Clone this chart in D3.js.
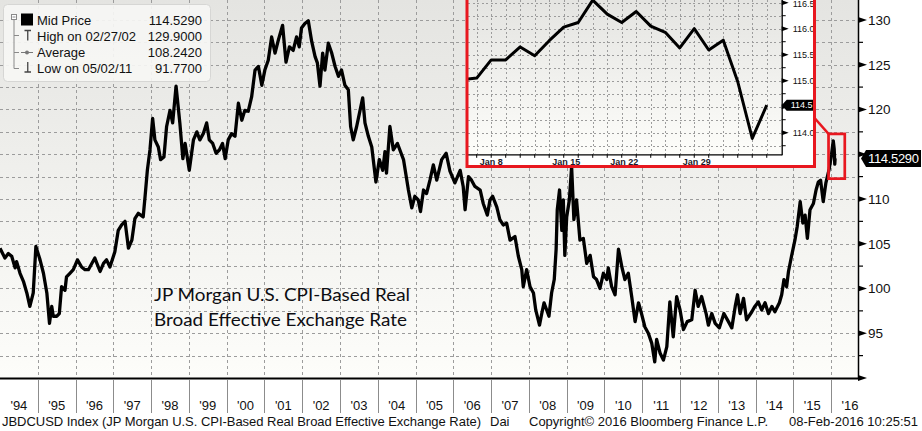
<!DOCTYPE html>
<html><head><meta charset="utf-8">
<script src="https://cdn.jsdelivr.net/npm/d3@7/dist/d3.min.js"></script>
<style>body{margin:0;background:#fff;} svg{display:block;}</style>
</head><body><svg id="c" width="922" height="431"></svg>
<script>
// ---------------- DATA ----------------
// Mid price series: [decimal year, value]
const midSeries = [
[1994.00,104.5],[1994.13,103.4],[1994.22,103.9],[1994.31,103.6],[1994.40,102.3],[1994.44,103.0],[1994.53,101.7],[1994.62,100.8],[1994.71,99.5],[1994.79,98.0],[1994.88,99.5],[1994.95,104.7],
[1995.06,103.2],[1995.15,101.7],[1995.24,99.5],[1995.31,96.1],[1995.37,98.0],[1995.41,96.9],[1995.50,96.9],[1995.57,97.2],[1995.63,100.2],[1995.72,99.8],[1995.76,101.3],[1995.85,101.7],[1995.94,102.1],
[1996.05,103.2],[1996.16,102.4],[1996.25,102.1],[1996.34,102.1],[1996.43,102.8],[1996.51,103.4],[1996.65,101.9],[1996.74,102.8],[1996.82,103.2],[1996.91,102.4],
[1997.04,104.1],[1997.13,106.5],[1997.22,107.1],[1997.31,107.5],[1997.40,104.5],[1997.49,105.4],[1997.57,107.8],[1997.66,108.4],[1997.79,108.0],[1997.84,110.3],[1997.90,113.2],[1997.97,115.5],
[1998.04,119.0],[1998.10,116.6],[1998.19,115.8],[1998.25,114.4],[1998.34,114.7],[1998.41,118.1],[1998.50,119.9],[1998.57,118.5],[1998.66,122.6],[1998.76,118.5],[1998.84,114.5],[1998.90,116.2],
[1999.01,113.2],[1999.12,116.6],[1999.21,117.5],[1999.29,116.6],[1999.38,117.3],[1999.47,118.5],[1999.54,116.6],[1999.63,116.2],[1999.72,115.1],[1999.81,115.5],[1999.89,116.2],[1999.96,114.5],
[2000.04,116.6],[2000.13,117.3],[2000.22,117.0],[2000.31,120.7],[2000.40,118.8],[2000.48,119.9],[2000.57,119.8],[2000.66,121.4],[2000.75,124.4],[2000.84,124.8],[2000.93,122.7],
[2001.01,124.4],[2001.10,125.5],[2001.19,128.1],[2001.28,126.3],[2001.37,127.8],[2001.48,129.4],[2001.57,125.3],[2001.66,127.0],[2001.76,126.6],[2001.85,128.1],[2001.92,127.0],[2001.98,129.1],
[2002.07,129.6],[2002.16,129.9],[2002.25,127.6],[2002.34,125.9],[2002.40,125.2],[2002.47,122.6],[2002.54,126.3],[2002.60,124.4],[2002.69,127.4],[2002.78,126.3],[2002.87,124.8],[2002.96,123.7],
[2003.04,124.4],[2003.13,122.7],[2003.22,122.2],[2003.28,118.1],[2003.35,116.6],[2003.44,118.1],[2003.53,119.9],[2003.60,121.3],[2003.66,118.5],[2003.75,117.0],[2003.84,115.8],[2003.95,111.9],
[2004.04,114.4],[2004.13,113.2],[2004.19,115.3],[2004.23,112.9],[2004.32,118.1],[2004.41,115.5],[2004.52,116.2],[2004.68,114.4],[2004.81,111.0],[2004.90,109.0],[2004.98,110.3],
[2005.07,109.9],[2005.13,108.6],[2005.21,111.0],[2005.29,110.6],[2005.38,112.1],[2005.47,113.8],[2005.56,112.1],[2005.69,114.4],[2005.81,115.1],[2005.91,113.1],
[2006.04,111.8],[2006.18,113.2],[2006.26,111.4],[2006.31,108.8],[2006.40,112.5],[2006.48,112.1],[2006.57,111.4],[2006.71,111.0],[2006.79,109.5],[2006.90,108.2],[2006.97,109.9],
[2007.04,110.3],[2007.15,109.1],[2007.23,107.7],[2007.32,107.1],[2007.41,107.3],[2007.50,105.4],[2007.63,105.8],[2007.72,103.6],[2007.81,102.1],[2007.85,100.2],[2007.94,102.1],
[2008.03,100.2],[2008.12,99.5],[2008.18,97.6],[2008.28,95.9],[2008.34,97.2],[2008.40,98.4],[2008.47,97.6],[2008.53,96.9],[2008.60,99.5],[2008.67,101.0],[2008.72,104.4],[2008.75,108.8],[2008.81,111.0],[2008.87,106.5],[2008.91,109.9],[2008.95,103.7],
[2009.00,108.0],[2009.07,109.9],[2009.13,113.6],[2009.19,107.7],[2009.26,109.9],[2009.35,105.4],[2009.44,105.6],[2009.53,102.8],[2009.62,103.7],[2009.71,101.3],[2009.79,101.0],[2009.88,100.0],[2009.97,101.7],
[2010.06,101.0],[2010.10,102.3],[2010.19,100.2],[2010.28,99.3],[2010.37,104.4],[2010.46,102.4],[2010.54,101.0],[2010.63,101.7],[2010.72,99.1],[2010.81,96.3],[2010.90,98.4],[2010.98,97.2],
[2011.07,95.7],[2011.16,95.0],[2011.25,93.9],[2011.33,91.8],[2011.38,94.3],[2011.47,92.8],[2011.56,92.0],[2011.65,93.5],[2011.73,98.5],[2011.82,94.6],[2011.91,99.1],
[2012.00,97.6],[2012.09,95.4],[2012.19,96.3],[2012.31,96.5],[2012.40,99.8],[2012.48,98.0],[2012.57,99.1],[2012.69,97.2],[2012.75,95.9],[2012.84,97.2],[2012.93,96.1],
[2013.04,95.6],[2013.16,97.2],[2013.28,96.3],[2013.37,95.6],[2013.46,98.0],[2013.52,99.3],[2013.59,97.2],[2013.68,98.9],[2013.76,96.5],[2013.90,97.4],[2013.98,98.0],
[2014.07,98.5],[2014.16,97.6],[2014.25,98.4],[2014.34,97.2],[2014.43,98.0],[2014.51,97.4],[2014.63,98.4],[2014.69,99.3],[2014.75,101.0],[2014.82,100.2],[2014.87,101.9],[2014.95,103.6],
[2015.04,105.4],[2015.10,106.9],[2015.18,109.7],[2015.25,107.3],[2015.31,108.2],[2015.37,105.6],[2015.44,108.8],[2015.53,109.5],[2015.60,111.0],[2015.66,111.9],[2015.72,112.1],[2015.79,109.7],[2015.86,111.8],[2015.95,113.4],
[2016.01,115.0],[2016.055,116.5],[2016.08,115.6],[2016.095,113.9],[2016.104,114.529]
];
const yearLabels = ["'94","'95","'96","'97","'98","'99","'00","'01","'02","'03","'04","'05","'06","'07","'08","'09","'10","'11","'12","'13","'14","'15","'16"];
const yearStarts = d3.range(1994, 2017);
const yTickValues = [90,95,100,105,110,115,120,125,130];
const lastValue = 114.529;

const legendLabels = ["Mid Price","High on 02/27/02","Average","Low on 05/02/11"];
const legendValues = ["114.5290","129.9000","108.2420","91.7700"];

const insetDays = ["Jan 7","Jan 8","Jan 11","Jan 12","Jan 13","Jan 14","Jan 15","Jan 19","Jan 20","Jan 21","Jan 22","Jan 25","Jan 26","Jan 27","Jan 28","Jan 29","Feb 1","Feb 2","Feb 3","Feb 4","Feb 5","Feb 8"];
const insetValues = [115.02,115.05,115.40,115.40,115.65,115.48,115.77,116.03,116.12,116.55,116.28,116.12,116.33,116.05,115.93,115.63,116.00,115.59,115.78,114.98,113.89,114.529];
const insetTickLabels = ["Jan 8","Jan 15","Jan 22","Jan 29"];
const insetYTicks = [114.0,114.5,115.0,115.5,116.0,116.5];

const zoomWindowT = [2015.93, 2016.36];
const zoomWindowV = [112.27, 117.27];

const titleLines = ["JP Morgan U.S. CPI-Based Real","Broad Effective Exchange Rate"];
const footer = ["JBDCUSD Index (JP Morgan U.S. CPI-Based Real Broad Effective Exchange Rate)","Dai","Copyright\u00A9 2016 Bloomberg Finance L.P.","08-Feb-2016 10:25:51"];

// ---------------- DRAW ----------------
const svg = d3.select("#c");
const FONT = "'Liberation Sans', Arial, sans-serif";
const PR = 858, PB = 378;
const x = d3.scaleLinear().domain([1994, 2016.71]).range([0, PR]);
const y = d3.scaleLinear().domain([90, 132.23]).range([PB, 0]);

const defs = svg.append("defs");
const grad = defs.append("linearGradient").attr("id","bg").attr("x1",0).attr("y1",0).attr("x2",0).attr("y2",1);
grad.append("stop").attr("offset","0%").attr("stop-color","#e4e4e1");
grad.append("stop").attr("offset","100%").attr("stop-color","#fdfdfa");
defs.append("clipPath").attr("id","mainClip").append("rect").attr("x",0).attr("y",0).attr("width",PR).attr("height",PB);

svg.append("rect").attr("width",922).attr("height",431).attr("fill","#fff");
svg.append("rect").attr("x",0).attr("y",0).attr("width",PR).attr("height",PB).attr("fill","url(#bg)");

// grid
const grid = svg.append("g").attr("clip-path","url(#mainClip)").attr("stroke","#9c9c9c").attr("stroke-dasharray","3,3").attr("shape-rendering","crispEdges");
grid.selectAll(".hg").data(d3.range(92.5, 132.5, 2.5)).join("line")
  .attr("x1",0).attr("x2",PR).attr("y1",d=>Math.round(y(d))+0.5).attr("y2",d=>Math.round(y(d))+0.5);
grid.selectAll(".vg").data(yearStarts.slice(1)).join("line")
  .attr("y1",0).attr("y2",PB).attr("x1",d=>Math.round(x(d))+0.5).attr("x2",d=>Math.round(x(d))+0.5);

// main line
const line = d3.line().x(d=>x(d[0])).y(d=>y(d[1]));
svg.append("path").datum(midSeries).attr("clip-path","url(#mainClip)")
  .attr("d",line).attr("fill","none").attr("stroke","#000").attr("stroke-width",3.3).attr("stroke-linejoin","round");

// title annotation
svg.selectAll(".ttl").data(titleLines).join("text")
  .attr("x",154).attr("y",(d,i)=>300.5+i*25.5).text(d=>d)
  .attr("font-family","Lato, 'Open Sans', sans-serif").attr("font-size",18).attr("fill","#0d0d12")
  .attr("textLength",(d,i)=>i?253:256).attr("lengthAdjust","spacingAndGlyphs");

// legend
const lg = svg.append("g");
lg.append("rect").attr("x",3.5).attr("y",4.5).attr("width",207).attr("height",77).attr("rx",4)
  .attr("fill","#f6f6f4").attr("fill-opacity",0.92).attr("stroke","#d6d6d4");
const tree = "#8a8a8a";
lg.append("rect").attr("x",11.5).attr("y",14.5).attr("width",5).attr("height",5).attr("fill","#fff").attr("stroke",tree);
lg.append("line").attr("x1",12.5).attr("x2",15.5).attr("y1",17).attr("y2",17).attr("stroke",tree);
lg.append("line").attr("x1",14).attr("x2",14).attr("y1",20).attr("y2",68.5).attr("stroke",tree);
[35.5,52.5,68.5].forEach(yy=>lg.append("line").attr("x1",14).attr("x2",19).attr("y1",yy).attr("y2",yy).attr("stroke",tree));
lg.append("rect").attr("x",21).attr("y",13.5).attr("width",12).attr("height",12).attr("fill","#000");
lg.append("path").attr("d","M24.5,30.5H31M27.75,30.5V40.5").attr("stroke","#444").attr("stroke-width",1.3).attr("fill","none");
lg.append("line").attr("x1",21).attr("x2",33).attr("y1",52.5).attr("y2",52.5).attr("stroke","#777");
lg.append("circle").attr("cx",27).attr("cy",52.5).attr("r",2).attr("fill","#777");
lg.append("path").attr("d","M27.75,62V72M24.5,72H31").attr("stroke","#444").attr("stroke-width",1.3).attr("fill","none");
lg.selectAll(".ll").data(legendLabels).join("text").attr("x",37).attr("y",(d,i)=>24.7+i*16)
  .text(d=>d).attr("font-family",FONT).attr("font-size",13).attr("fill","#111");
lg.selectAll(".lv").data(legendValues).join("text").attr("x",202).attr("y",(d,i)=>24.7+i*16)
  .attr("text-anchor","end").text(d=>d).attr("font-family",FONT).attr("font-size",13).attr("fill","#111");

// right axis
const ax = svg.append("g");
ax.append("line").attr("x1",PR+0.5).attr("x2",PR+0.5).attr("y1",0).attr("y2",PB+1).attr("stroke","#000").attr("stroke-width",1.5);
ax.selectAll(".mj").data(yTickValues).join("path")
  .attr("d",d=>{const yy=y(d);return `M${PR},${yy-3}L${PR+9},${yy}L${PR},${yy+3}Z`;}).attr("fill","#000");
ax.selectAll(".mn").data(d3.range(92.5,130,5)).join("line")
  .attr("x1",PR).attr("x2",PR+5).attr("y1",d=>y(d)).attr("y2",d=>y(d)).attr("stroke","#000").attr("stroke-width",1.2);
// labels (115 is covered by the last-value tag in the reference)
ax.selectAll(".lb").data(yTickValues.filter(v=>v>90 && v!==115)).join("text")
  .attr("x",PR+10).attr("y",d=>y(d)).attr("dy","0.36em").text(d=>d)
  .attr("font-family",FONT).attr("font-size",13.5).attr("fill","#111");
// last value tag
const ly = y(lastValue);
ax.append("path").attr("d",`M861,${ly}L866,${ly-8.5}H921V${ly+8.5}H866Z`).attr("fill","#000");
ax.append("text").attr("x",868).attr("y",ly).attr("dy","0.36em").text(lastValue.toFixed(4))
  .attr("font-family",FONT).attr("font-size",13).attr("fill","#fff").attr("textLength",51);

// bottom axis
const bx = svg.append("g");
bx.append("line").attr("x1",0).attr("x2",PR).attr("y1",PB+0.5).attr("y2",PB+0.5).attr("stroke","#000").attr("stroke-width",2);
bx.selectAll(".sep").data(yearStarts.slice(1)).join("line")
  .attr("x1",d=>Math.round(x(d))+0.5).attr("x2",d=>Math.round(x(d))+0.5).attr("y1",380).attr("y2",413)
  .attr("stroke","#8c8c8c");
bx.selectAll(".yl").data(yearLabels).join("text")
  .attr("x",(d,i)=>x(yearStarts[i]+0.5)).attr("y",409.5).attr("text-anchor","middle").text(d=>d)
  .attr("font-family",FONT).attr("font-size",13).attr("fill","#111");

// footer
const fx = [[2,479],[490,17],[529,239],[789,129]];
svg.selectAll(".ft").data(footer).join("text")
  .attr("x",(d,i)=>fx[i][0]).attr("y",426).text(d=>d).attr("textLength",(d,i)=>i===1?null:fx[i][1])
  .attr("font-family",FONT).attr("font-size",13).attr("fill","#111");

// ---------------- INSET ----------------
const IL=468, IR=781.7, IB=154.3;
const ix = d3.scaleLinear().domain([0.4, 22.03]).range([IL, IR]);
const iy = d3.scaleLinear().domain([113.585, 116.552]).range([IB, 0]);
defs.append("clipPath").attr("id","insetPlot").append("rect").attr("x",IL).attr("y",0).attr("width",IR-IL).attr("height",IB);
defs.append("clipPath").attr("id","insetAll").append("rect").attr("x",467).attr("y",0).attr("width",346.5).attr("height",166);
const ins = svg.append("g").attr("clip-path","url(#insetAll)");
ins.append("rect").attr("x",466).attr("y",0).attr("width",349).attr("height",167).attr("fill","#fff");
ins.append("rect").attr("x",IL).attr("y",0).attr("width",IR-IL).attr("height",IB).attr("fill","url(#bg)");
const ig = ins.append("g").attr("clip-path","url(#insetPlot)").attr("stroke","#9c9c9c").attr("stroke-dasharray","2,2.5").attr("shape-rendering","crispEdges");
ig.selectAll(".h").data(d3.range(113.75,116.6,0.25)).join("line")
  .attr("x1",IL).attr("x2",IR).attr("y1",d=>Math.round(iy(d))+0.5).attr("y2",d=>Math.round(iy(d))+0.5);
ig.selectAll(".v").data(d3.range(1,22)).join("line")
  .attr("y1",0).attr("y2",IB).attr("x1",d=>Math.round(ix(d))+0.5).attr("x2",d=>Math.round(ix(d))+0.5);
ins.append("path").datum(insetValues).attr("clip-path","url(#insetPlot)")
  .attr("d",d3.line().x((d,i)=>ix(i)).y(d=>iy(d))).attr("fill","none").attr("stroke","#000").attr("stroke-width",3).attr("stroke-linejoin","round");
// inset axes
ins.append("line").attr("x1",IL).attr("x2",IR+0.5).attr("y1",IB+0.5).attr("y2",IB+0.5).attr("stroke","#000").attr("stroke-width",1.3);
ins.append("line").attr("x1",IR+0.5).attr("x2",IR+0.5).attr("y1",0).attr("y2",IB+1).attr("stroke","#000").attr("stroke-width",1.3);
ins.selectAll(".xt").data(d3.range(1,22)).join("line")
  .attr("x1",d=>ix(d)).attr("x2",d=>ix(d)).attr("y1",IB).attr("y2",IB+3.5).attr("stroke","#000");
ins.selectAll(".yt").data(insetYTicks).join("path")
  .attr("d",d=>{const yy=iy(d);return `M${IR},${yy-2.5}L${IR+7},${yy}L${IR},${yy+2.5}Z`;}).attr("fill","#000");
ins.selectAll(".ym").data(d3.range(113.75,116.6,0.5)).join("line")
  .attr("x1",IR).attr("x2",IR+4).attr("y1",d=>iy(d)).attr("y2",d=>iy(d)).attr("stroke","#000");
ins.selectAll(".yl").data(insetYTicks.filter(v=>v!==114.5)).join("text")
  .attr("x",IR+11).attr("y",d=>Math.max(iy(d),4)).attr("dy","0.36em").text(d=>d.toFixed(1))
  .attr("font-family",FONT).attr("font-size",9).attr("fill","#111");
const ily = iy(lastValue);
ins.append("path").attr("d",`M${IR},${ily}L${IR+5},${ily-5.5}H815V${ily+5.5}H${IR+5}Z`).attr("fill","#000");
ins.append("text").attr("x",IR+9).attr("y",ily).attr("dy","0.36em").text(lastValue.toFixed(1))
  .attr("font-family",FONT).attr("font-size",9).attr("fill","#fff");
ins.selectAll(".xl").data(insetTickLabels).join("text")
  .attr("x",d=>ix(insetDays.indexOf(d))+3).attr("y",164.5).text(d=>d)
  .attr("font-family",FONT).attr("font-size",9).attr("font-weight","bold").attr("fill","#1a1a2a");

// red frames
const RED = "#e8171f";
svg.append("rect").attr("x",467).attr("y",-5).attr("width",347.5).attr("height",171.5)
  .attr("fill","none").attr("stroke",RED).attr("stroke-width",3);
const bx0 = x(zoomWindowT[0]), bx1 = x(zoomWindowT[1]), by0 = y(zoomWindowV[1]), by1 = y(zoomWindowV[0]);
svg.append("rect").attr("x",bx0).attr("y",by0).attr("width",bx1-bx0).attr("height",by1-by0)
  .attr("fill","none").attr("stroke",RED).attr("stroke-width",2.7);
svg.append("line").attr("x1",815).attr("y1",118.5).attr("x2",bx0).attr("y2",by0)
  .attr("stroke",RED).attr("stroke-width",2.5);
</script></body></html>
